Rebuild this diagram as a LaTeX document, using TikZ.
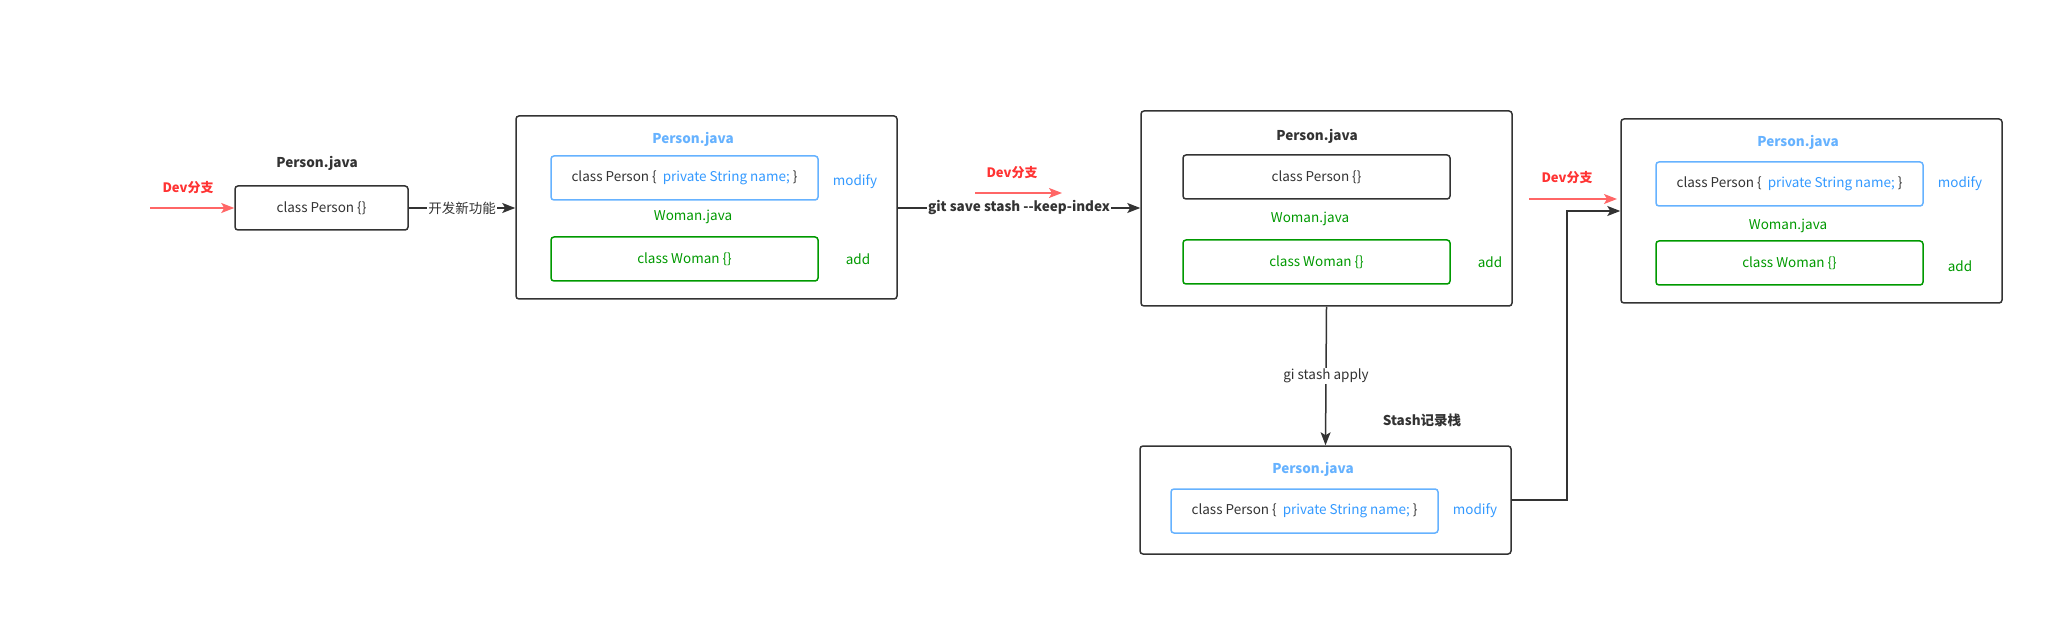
\documentclass[tikz,border=0pt]{standalone}
\usepackage{fontspec}
\setmainfont{Noto Sans CJK SC}
\usetikzlibrary{arrows.meta,positioning}
\definecolor{ink}{RGB}{51,51,51}
\definecolor{sky}{RGB}{102,178,255}
\definecolor{skytext}{RGB}{51,153,255}
\definecolor{leaf}{RGB}{0,153,0}
\definecolor{devred}{RGB}{255,51,51}
\definecolor{devline}{RGB}{255,102,102}
\tikzset{
  >={Stealth[length=13pt,width=10pt,inset=3pt]},
  outer/.style={draw=ink,line width=1.5pt,rounded corners=3pt,inner sep=0pt},
  codebox/.style={draw=#1,line width=1.5pt,rounded corners=3pt,
    minimum width=267pt,minimum height=44pt,inner sep=0pt,text=ink,
    font=\fontsize{13.5}{15}\selectfont},
  codebox/.default=ink,
  title/.style={font=\fontsize{13.5}{15}\selectfont\bfseries,text=#1},
  title/.default=ink,
  tag/.style={font=\fontsize{13.5}{15}\selectfont,text=#1},
  tag/.default=ink,
  devtag/.style={font=\fontsize{13}{15}\selectfont\bfseries,text=devred},
  devarrow/.style={->,draw=devline,line width=1.5pt},
  flow/.style={->,draw=ink,line width=1.5pt},
  flowtag/.style={fill=white,inner sep=1pt,text=ink,font=\fontsize{13.5}{15}\selectfont},
}
\newcommand{\modline}{class Person \{~~\textcolor{skytext}{private String name;} \}}

\begin{document}
\begin{tikzpicture}[x=1pt,y=-1pt]
  \useasboundingbox (0,0) rectangle (2063,617);

  % start: plain Person
  \node[outer,minimum width=173pt,minimum height=44pt,font=\fontsize{13.5}{15}\selectfont,text=ink] (pA) at (321.5,208) {class Person \{\}};
  \node[title] (pAtitle) at (317,163) {Person.java};
  \node[devtag] (devA) at (188,188) {Dev分支};
  \coordinate (devAs) at (150,208);
  \draw[devarrow] (devAs) -- (pA.west);

  % working copy with changes
  \node[outer,minimum width=381pt,minimum height=183pt] (wB) at (706.5,207.5) {};
  \node[title=sky] (wBtitle) at (693,139) {Person.java};
  \node[codebox=sky] (wBperson) at (684.5,178) {\modline};
  \node[tag=skytext] (wBmod) at (855,182) {modify};
  \node[tag=leaf] (wBwoman) at (693,217) {Woman.java};
  \node[codebox=leaf,text=leaf] (wBwomanbox) at (684.5,259) {class Woman \{\}};
  \node[tag=leaf] (wBadd) at (858,259) {add};
  \draw[flow] (pA.east) -- node[flowtag] {开发新功能} (pA.east -| wB.west);

  % after stash --keep-index
  \node[outer,minimum width=371pt,minimum height=195pt] (sC) at (1326.5,208.5) {};
  \node[title] (sCtitle) at (1317,136) {Person.java};
  \node[codebox] (sCperson) at (1316.5,177) {class Person \{\}};
  \node[tag=leaf] (sCwoman) at (1310,219) {Woman.java};
  \node[codebox=leaf,text=leaf] (sCwomanbox) at (1316.5,262) {class Woman \{\}};
  \node[tag=leaf] (sCadd) at (1490,262) {add};
  \draw[flow] (wB.east |- 0,208) coordinate (wBout) -- node[flowtag,font=\fontsize{13.5}{15}\selectfont\bfseries] {git save stash -{}-keep-index} (wBout -| sC.west);

  % stash stack
  \node[outer,minimum width=371pt,minimum height=108pt] (kD) at (1325.5,500) {};
  \node[title=sky] (kDtitle) at (1313,469) {Person.java};
  \node[codebox=sky] (kDperson) at (1304.5,511) {\modline};
  \node[tag=skytext] (kDmod) at (1475,511) {modify};
  \node[title] (kDlabel) at (1422,420) {Stash记录栈};
  \draw[flow] (sC.south) -- node[flowtag] {gi stash apply} (kD.north);

  % restored
  \node[outer,minimum width=381pt,minimum height=184pt] (rE) at (1811.5,211) {};
  \node[title=sky] (rEtitle) at (1798,142) {Person.java};
  \node[codebox=sky] (rEperson) at (1789.5,184) {\modline};
  \node[tag=skytext] (rEmod) at (1960,184) {modify};
  \node[tag=leaf] (rEwoman) at (1788,226) {Woman.java};
  \node[codebox=leaf,text=leaf] (rEwomanbox) at (1789.5,263) {class Woman \{\}};
  \node[tag=leaf] (rEadd) at (1960,266) {add};
  \draw[flow] (kD.east) -- ++(55,0) |- (rE.west);

  % branch markers
  \foreach \sx/\ex/\y/\lx/\ly [count=\i] in {975/1062/193/1012/173, 1529/1617/199/1567/178}
  {
    \node[devtag] (dev\i) at (\lx,\ly) {Dev分支};
    \coordinate (dev\i s) at (\sx,\y);
    \coordinate (dev\i e) at (\ex,\y);
    \draw[devarrow] (dev\i s) -- (dev\i e);
  }
\end{tikzpicture}
\end{document}
